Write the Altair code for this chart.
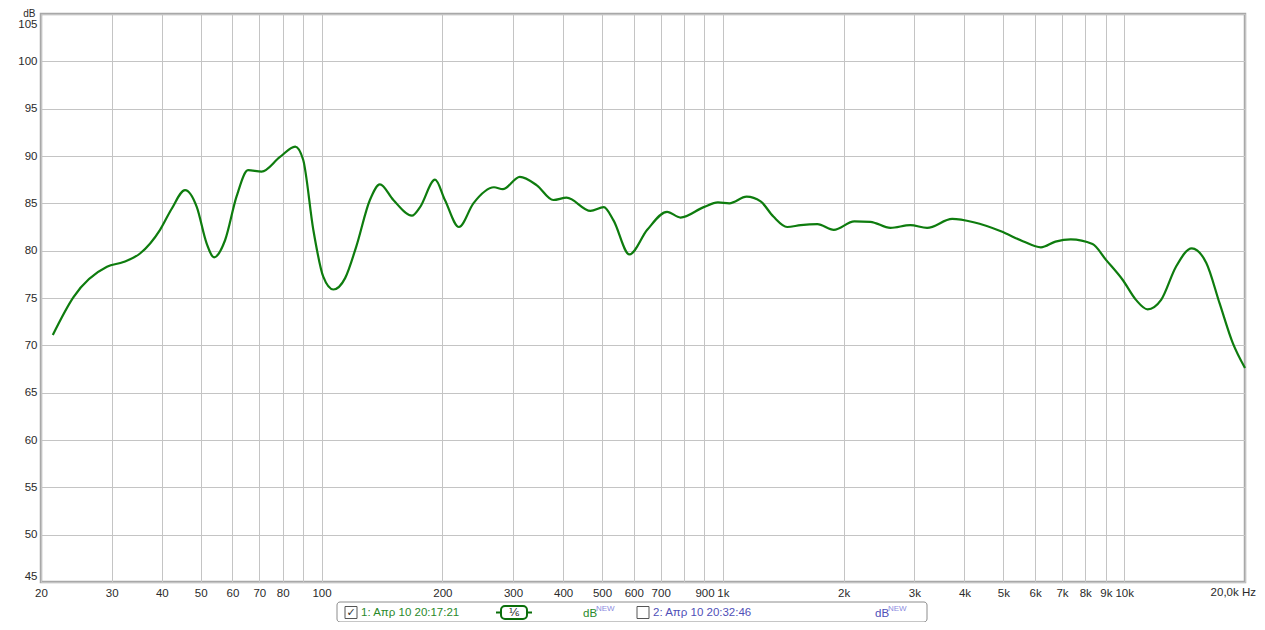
import altair as alt
import pandas as pd

# ---- data ----
freq = [21.4, 24.1, 29.2, 32.1, 35.3, 39.6, 42.3, 45.7, 48.9, 51.7, 54.0, 57.5, 61.4, 65.6,
        70.9, 78.8, 86.0, 90.0, 95.4, 101, 107, 114.5, 122, 132, 139.8, 151, 168, 176,
        191.8, 203, 220, 239, 269, 283, 312, 344, 378, 408, 468, 505, 534, 585, 648, 726,
        784, 896, 972, 1038, 1146, 1242, 1336, 1446, 1563, 1720, 1890, 2126, 2330, 2616,
        2932, 3228, 3728, 4216, 4930, 5590, 6200, 6740, 7360, 8340, 9020, 9920, 10700,
        11440, 12360, 13460, 14740, 16020, 17300, 18660, 20000]
spl = [71.1, 75.1, 78.3, 78.8, 79.7, 82.2, 84.4, 86.4, 84.6, 80.8, 79.3, 81.1, 85.7, 88.5,
       88.35, 89.9, 91.0, 89.6, 82.2, 77.25, 75.9, 77.1, 80.4, 85.35, 87.0, 85.35, 83.7, 84.6,
       87.5, 85.35, 82.5, 85.0, 86.7, 86.5, 87.8, 86.9, 85.35, 85.6, 84.2, 84.6, 83.2, 79.6,
       82.2, 84.1, 83.5, 84.6, 85.1, 85.0, 85.7, 85.2, 83.6, 82.5, 82.7, 82.8, 82.2, 83.1,
       83.05, 82.4, 82.7, 82.4, 83.35, 83.0, 82.05, 81.0, 80.35, 80.95, 81.2, 80.7, 79.0,
       76.9, 74.8, 73.8, 74.8, 78.3, 80.25, 78.7, 74.4, 70.2, 67.6]

x_grid = [20, 30, 40, 50, 60, 70, 80, 90, 100, 200, 300, 400, 500, 600, 700, 800, 900,
          1000, 2000, 3000, 4000, 5000, 6000, 7000, 8000, 9000, 10000, 20000]
x_label_vals = [20, 30, 40, 50, 60, 70, 80, 100, 200, 300, 400, 500, 600, 700, 900,
                1000, 2000, 3000, 4000, 5000, 6000, 7000, 8000, 9000, 10000]
x_label_txt = ["20", "30", "40", "50", "60", "70", "80", "100", "200", "300", "400", "500",
               "600", "700", "900", "1k", "2k", "3k", "4k", "5k", "6k", "7k", "8k", "9k", "10k"]
end_label = "20,0k Hz"
y_ticks = list(range(45, 106, 5))

legend_names = ["1: Απρ 10 20:17:21", "2: Απρ 10 20:32:46"]
legend_unit = "dB"
legend_sup = "NEW"
smoothing = "⅙"

FONT = "Liberation Sans"
GREEN = "#0e7c0e"
TXT_GREEN = "#2a8a2a"
TXT_BLUE = "#4f4fb8"
SUP = "#8c8ce0"
LBL = "#2a2a2a"

expr = "".join(f"datum.value == {v} ? '{t}' : " for v, t in zip(x_label_vals, x_label_txt)) + "''"

df = pd.DataFrame({"f": freq, "db": spl})

xscale = alt.Scale(type="log", domain=[20, 20000], nice=False)
yscale = alt.Scale(domain=[45, 105], nice=False, zero=False)

line = alt.Chart(df).mark_line(color=GREEN, strokeWidth=2.2, interpolate="monotone").encode(
    x=alt.X("f:Q", scale=xscale,
            axis=alt.Axis(values=x_grid, labelExpr=expr, title=None, grid=True,
                          gridColor="#c4c4c4", tickSize=0, domain=False, labelPadding=5,
                          labelFont=FONT, labelFontSize=11.5, labelColor=LBL,
                          labelFlush=False, labelOverlap=False)),
    y=alt.Y("db:Q", scale=yscale,
            axis=alt.Axis(values=y_ticks, title="dB", titleAngle=0, titleX=-6, titleY=-5.5,
                          titleAlign="right", titleBaseline="top", titleFont=FONT,
                          titleFontSize=10, titleFontWeight="normal", titleColor=LBL,
                          grid=True, gridColor="#c4c4c4", tickSize=0, domain=False,
                          labelPadding=4, labelFont=FONT, labelFontSize=11.5,
                          labelColor=LBL, labelFlush=False, labelBaseline="middle",
                          labelOffset=alt.ExprRef(
                              "datum.value == 105 ? 10.5 : datum.value == 45 ? -6 : 0"))),
)

end_df = pd.DataFrame({"f": [20000], "t": [end_label]})
end_txt = alt.Chart(end_df).mark_text(align="right", baseline="top", dx=11, dy=5,
                                      font=FONT, fontSize=11.5, color=LBL).encode(
    x=alt.X("f:Q", scale=xscale), y=alt.value(568), text="t:N")

one = alt.Data(values=[{"k": 0}])


def txt(s, x, y, color, size=11.5, font=FONT, align="left", baseline="middle"):
    return alt.Chart(one).mark_text(text=s, align=align, baseline=baseline, font=font,
                                    fontSize=size, color=color).encode(
        x=alt.value(x), y=alt.value(y))


def box(x1, x2, y1, y2, stroke, sw=1, radius=0, fill="white"):
    return alt.Chart(one).mark_rect(fill=fill, stroke=stroke, strokeWidth=sw,
                                    cornerRadius=radius).encode(
        x=alt.value(x1), x2=alt.value(x2), y=alt.value(y1), y2=alt.value(y2))


LY = 598.5
legend = [
    box(296, 886, 588, 608, "#8c8c8c", 1, 3),
    box(304, 316, LY - 6, LY + 6, "#555555", 1),
    txt("✓", 310, LY, "#333333", 11, "DejaVu Sans", "center"),
    txt(legend_names[0], 320, LY, TXT_GREEN),
    alt.Chart(one).mark_rule(color="#0a6e0a", strokeWidth=2).encode(
        x=alt.value(455), x2=alt.value(491), y=alt.value(LY)),
    box(460, 486, LY - 6.5, LY + 6.5, "#0a6e0a", 2, 4),
    txt(smoothing, 473, LY, "#222222", 11, "DejaVu Sans", "center"),
    txt(legend_unit, 542, LY + 1, TXT_GREEN),
    txt(legend_sup, 555, LY - 4, SUP, 8),
    box(596, 608, LY - 6, LY + 6, "#555555", 1),
    txt(legend_names[1], 612, LY, TXT_BLUE),
    txt(legend_unit, 834, LY + 1, TXT_BLUE),
    txt(legend_sup, 847, LY - 4, SUP, 8),
]

chart = alt.layer(line, end_txt, *legend).properties(
    width=1204, height=568,
    padding={"left": 33, "top": 6, "right": 12, "bottom": 40},
    autosize=alt.AutoSizeParams(type="none"),
    background="white",
).configure_view(stroke="#a8a8a8", strokeWidth=2.5)

chart.save("out.html", embed_options={"renderer": "svg", "actions": False})
